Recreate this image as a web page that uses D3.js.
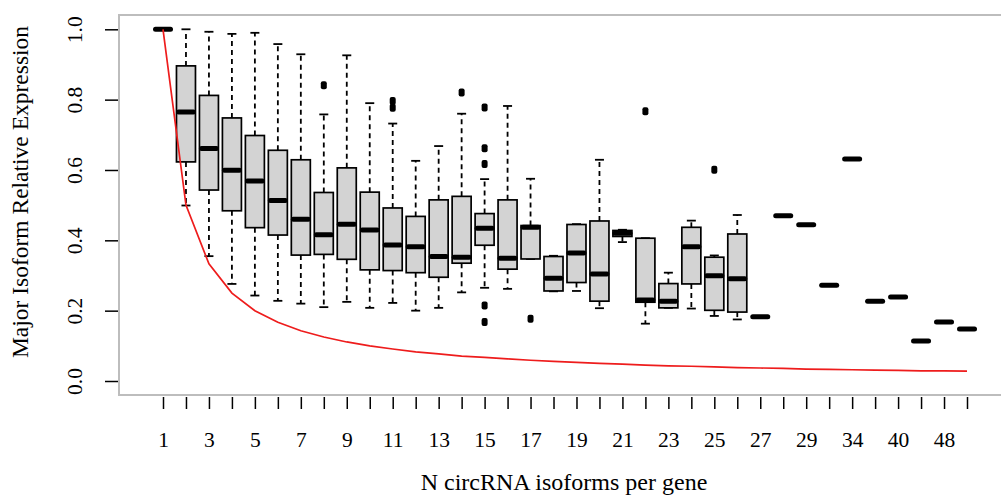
<!DOCTYPE html>
<html>
<head>
<meta charset="utf-8">
<script src="https://cdn.jsdelivr.net/npm/d3@7"></script>
<style>
  body { margin: 0; background: #fff; }
  text { font-family: "Liberation Serif", "Times New Roman", serif; fill: #000; }
</style>
</head>
<body>
<div id="chart"></div>
<script>
// number of circRNA isoforms per gene (only every other label is printed)
const categories = ["1", "2", "3", "4", "5", "6", "7", "8", "9", "10", "11", "12", "13", "14", "15",
  "16", "17", "18", "19", "20", "21", "22", "23", "24", "25", "26", "27", "28", "29", "31",
  "34", "37", "40", "44", "48", "53"];

// box statistics
const whiskerLow = [1, 0.499, 0.355, 0.276, 0.243, 0.228, 0.220, 0.210, 0.225, 0.208, 0.222, 0.200,
  0.208, 0.252, 0.265, 0.262, 0.347, 0.255, 0.256, 0.207, 0.395, 0.163, 0.208, 0.206, 0.185, 0.175,
  0.183, 0.470, 0.444, 0.272, 0.631, 0.227, 0.239, 0.114, 0.168, 0.148];
const q1 = [1, 0.623, 0.543, 0.484, 0.436, 0.415, 0.358, 0.360, 0.346, 0.316, 0.314, 0.308,
  0.295, 0.335, 0.386, 0.318, 0.347, 0.256, 0.280, 0.227, 0.411, 0.224, 0.208, 0.276, 0.201, 0.196,
  0.183, 0.470, 0.444, 0.272, 0.631, 0.227, 0.239, 0.114, 0.168, 0.148];
const medians = [1, 0.765, 0.661, 0.599, 0.569, 0.513, 0.460, 0.416, 0.446, 0.429, 0.387, 0.382,
  0.354, 0.352, 0.434, 0.349, 0.437, 0.292, 0.364, 0.304, 0.420, 0.230, 0.227, 0.382, 0.299, 0.291,
  0.183, 0.470, 0.444, 0.272, 0.631, 0.227, 0.239, 0.114, 0.168, 0.148];
const q3 = [1, 0.896, 0.812, 0.748, 0.698, 0.656, 0.629, 0.536, 0.606, 0.537, 0.492, 0.468,
  0.515, 0.525, 0.476, 0.515, 0.442, 0.354, 0.445, 0.455, 0.428, 0.406, 0.277, 0.437, 0.352, 0.418,
  0.183, 0.470, 0.444, 0.272, 0.631, 0.227, 0.239, 0.114, 0.168, 0.148];
const whiskerHigh = [1, 1.0, 0.993, 0.987, 0.990, 0.958, 0.929, 0.758, 0.926, 0.790, 0.732, 0.626,
  0.668, 0.760, 0.574, 0.782, 0.575, 0.356, 0.446, 0.629, 0.430, 0.406, 0.308, 0.456, 0.357, 0.472,
  0.183, 0.470, 0.444, 0.272, 0.631, 0.227, 0.239, 0.114, 0.168, 0.148];

// outliers
const outlierCats = ["8", "11", "11", "14", "15", "15", "15", "15", "15", "17", "22", "25"];
const outlierVals = [0.841, 0.796, 0.777, 0.820, 0.778, 0.662, 0.617, 0.215, 0.168, 0.177, 0.767, 0.601];

// red reference curve (one value per box position)
const refCurve = [1, 0.5, 0.333, 0.25, 0.2, 0.167, 0.143, 0.125, 0.111, 0.1, 0.091, 0.083,
  0.077, 0.071, 0.067, 0.063, 0.059, 0.056, 0.053, 0.05, 0.048, 0.045, 0.043, 0.042, 0.04, 0.038,
  0.037, 0.036, 0.034, 0.033, 0.032, 0.031, 0.03, 0.029, 0.029, 0.028];

const yTicks = [0, 0.2, 0.4, 0.6, 0.8, 1.0];

const width = 1001;
const height = 497;
const frame = { left: 119, top: 15, right: 1011, bottom: 395 };

const svg = d3.select("#chart")
  .append("svg")
  .attr("width", width)
  .attr("height", height);

const x = d3.scalePoint()
  .domain(categories)
  .range([163, 967]);
const y = d3.scaleLinear()
  .domain([0, 1])
  .range([381, 29.3]);

const boxW = 19;
const capW = 9;

// plot frame
svg.append("rect")
  .attr("x", frame.left)
  .attr("y", frame.top)
  .attr("width", frame.right - frame.left)
  .attr("height", frame.bottom - frame.top)
  .attr("fill", "none")
  .attr("stroke", "#bdbdbd")
  .attr("stroke-width", 2);

// x axis: ticks only, labels on every other category
const xAxis = svg.append("g")
  .attr("transform", `translate(0,397)`)
  .call(d3.axisBottom(x)
    .tickSize(12)
    .tickPadding(20)
    .tickFormat((d, i) => (i % 2 === 0 ? d : "")));
xAxis.select(".domain").remove();
xAxis.selectAll("line").attr("stroke", "#000").attr("stroke-width", 1.5);
xAxis.selectAll("text")
  .attr("font-size", 21.5)
  .attr("font-family", null)
  .attr("dy", null)
  .attr("y", 50);

// y axis
const yAxis = svg.append("g")
  .attr("transform", `translate(118,0)`)
  .call(d3.axisLeft(y)
    .tickValues(yTicks)
    .tickSize(13)
    .tickFormat(d3.format(".1f")));
yAxis.select(".domain").remove();
yAxis.selectAll("line").attr("stroke", "#000").attr("stroke-width", 1.5);
yAxis.selectAll("text")
  .attr("font-size", 21.5)
  .attr("font-family", null)
  .attr("x", null)
  .attr("dy", null)
  .attr("text-anchor", "middle")
  .attr("transform", "translate(-36,0) rotate(-90)");

// boxes
const boxes = categories.map((c, i) => ({
  cat: c,
  lo: whiskerLow[i],
  q1: q1[i],
  med: medians[i],
  q3: q3[i],
  hi: whiskerHigh[i],
}));

const g = svg.append("g");

const bx = g.selectAll("g.box")
  .data(boxes)
  .enter()
  .append("g")
  .attr("class", "box");

// dashed whiskers
bx.append("line")
  .attr("x1", (d) => x(d.cat))
  .attr("x2", (d) => x(d.cat))
  .attr("y1", (d) => y(d.q3))
  .attr("y2", (d) => y(d.hi))
  .attr("stroke", "#000")
  .attr("stroke-width", 1.8)
  .attr("stroke-dasharray", "5,4");
bx.append("line")
  .attr("x1", (d) => x(d.cat))
  .attr("x2", (d) => x(d.cat))
  .attr("y1", (d) => y(d.q1))
  .attr("y2", (d) => y(d.lo))
  .attr("stroke", "#000")
  .attr("stroke-width", 1.8)
  .attr("stroke-dasharray", "5,4");

// whisker caps
["hi", "lo"].forEach((k) => {
  bx.append("line")
    .attr("x1", (d) => x(d.cat) - capW / 2)
    .attr("x2", (d) => x(d.cat) + capW / 2)
    .attr("y1", (d) => y(d[k]))
    .attr("y2", (d) => y(d[k]))
    .attr("stroke", "#000")
    .attr("stroke-width", 1.8);
});

// box body
bx.append("rect")
  .attr("x", (d) => x(d.cat) - boxW / 2)
  .attr("y", (d) => y(d.q3))
  .attr("width", boxW)
  .attr("height", (d) => y(d.q1) - y(d.q3))
  .attr("fill", "#d3d3d3")
  .attr("stroke", "#000")
  .attr("stroke-width", 1.7);

// median
bx.append("line")
  .attr("x1", (d) => x(d.cat) - boxW / 2 + 2)
  .attr("x2", (d) => x(d.cat) + boxW / 2 - 2)
  .attr("y1", (d) => y(d.med))
  .attr("y2", (d) => y(d.med))
  .attr("stroke", "#000")
  .attr("stroke-width", 5)
  .attr("stroke-linecap", "round");

// outliers
g.selectAll("rect.out")
  .data(outlierCats.map((c, i) => ({ cat: c, v: outlierVals[i] })))
  .enter()
  .append("rect")
  .attr("class", "out")
  .attr("x", (d) => x(d.cat) - 3)
  .attr("y", (d) => y(d.v) - 4)
  .attr("width", 6)
  .attr("height", 8)
  .attr("rx", 2)
  .attr("fill", "#000");

// red curve
const line = d3.line()
  .x((d, i) => x(categories[i]))
  .y((d) => y(d));
svg.append("path")
  .datum(refCurve)
  .attr("d", line)
  .attr("fill", "none")
  .attr("stroke", "#ee1c1c")
  .attr("stroke-width", 1.7);

// axis titles
svg.append("text")
  .attr("x", 564)
  .attr("y", 490)
  .attr("text-anchor", "middle")
  .attr("font-size", 24)
  .text("N circRNA isoforms per gene");

svg.append("text")
  .attr("transform", "translate(28,192) rotate(-90)")
  .attr("text-anchor", "middle")
  .attr("font-size", 23.5)
  .text("Major Isoform Relative Expression");
</script>
</body>
</html>
